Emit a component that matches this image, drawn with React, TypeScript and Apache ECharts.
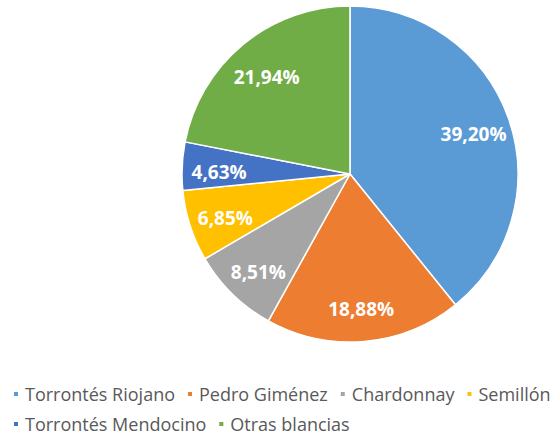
import React, { useEffect, useRef } from "react";
import * as echarts from "echarts";

const categories = [
  "Torrontés Riojano",
  "Pedro Giménez",
  "Chardonnay",
  "Semillón",
  "Torrontés Mendocino",
  "Otras blancias",
];
const values = [39.2, 18.88, 8.51, 6.85, 4.63, 21.94];
const colors = ["#5B9BD5", "#ED7D31", "#A5A5A5", "#FFC000", "#4472C4", "#70AD47"];

const FONT = "Open Sans";

export default function App() {
  const ref = useRef<HTMLDivElement>(null);
  useEffect(() => {
    document.body.style.margin = "0";
    const chart = echarts.init(ref.current!, undefined, { renderer: "svg" });
    const data = categories.map((name, i) => ({
      name,
      value: values[i],
      itemStyle: { color: colors[i] },
    }));
    const legendCommon = {
      orient: "horizontal" as const,
      icon: "rect",
      itemWidth: 6,
      itemHeight: 6,
      itemGap: 11,
      left: 12,
      padding: 0,
      textStyle: {
        fontFamily: FONT,
        fontSize: 18,
        color: "#595959",
        padding: [0, 0, 0, 1],
      },
      selectedMode: false,
    };
    chart.setOption({
      animation: false,
      backgroundColor: "#ffffff",
      legend: [
        { ...legendCommon, top: 385, data: categories.slice(0, 4) },
        { ...legendCommon, top: 415, data: categories.slice(4) },
      ],
      series: [
        {
          type: "pie",
          center: [350, 174],
          radius: [0, 168],
          startAngle: 90,
          clockwise: true,
          silent: true,
          label: { show: false },
          labelLine: { show: false },
          itemStyle: { borderColor: "#ffffff", borderWidth: 1.5 },
          data,
        },
        {
          type: "pie",
          center: [350, 178],
          radius: [88, 168],
          startAngle: 90,
          clockwise: true,
          silent: true,
          itemStyle: { color: "transparent", borderWidth: 0 },
          labelLine: { show: false },
          label: {
            show: true,
            position: "inside",
            fontFamily: FONT,
            fontSize: 19,
            fontWeight: "bold",
            color: "#ffffff",
            formatter: (p: any) => p.value.toFixed(2).replace(".", ",") + "%",
          },
          data: categories.map((name, i) => ({ name, value: values[i] })),
        },
      ],
    });
    return () => chart.dispose();
  }, []);
  return <div ref={ref} style={{ width: 554, height: 438 }} />;
}
